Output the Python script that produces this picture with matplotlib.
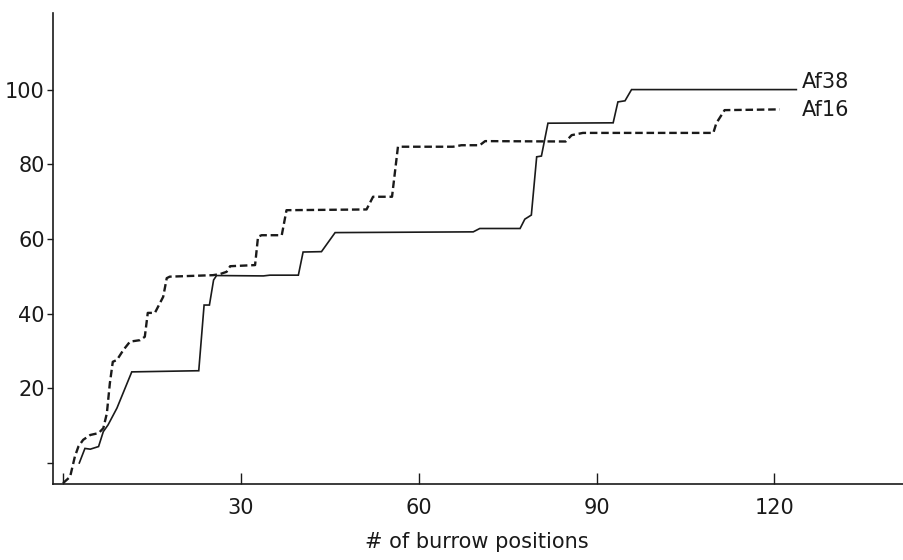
import matplotlib
matplotlib.use("Agg")
import matplotlib.pyplot as plt

# Af16 (dashed) cumulative home range (%) vs # of burrow positions
af16_x = [0.0, 1.2, 2.0, 2.6, 3.4, 4.6, 6.0, 6.8, 7.4, 7.9, 8.4, 9.1, 10.2, 11.3,
          13.0, 13.8, 14.3, 15.5, 16.9, 17.5, 18.0, 25.3, 26.5, 27.6, 28.2, 32.4,
          32.9, 33.5, 36.9, 37.7, 51.2, 52.3, 55.5, 56.5, 65.8, 67.2, 70.3, 71.2,
          84.8, 85.8, 87.7, 109.7, 110.2, 111.6, 120.9]
af16_y = [-5.4, -3.7, 1.7, 4.4, 6.2, 7.5, 8.0, 9.3, 13.3, 21.3, 27.1, 27.6, 30.3, 32.5,
          32.9, 33.8, 40.2, 40.2, 44.5, 49.5, 49.9, 50.3, 50.6, 51.2, 52.7, 53.0,
          60.6, 61.0, 61.0, 67.7, 67.9, 71.3, 71.3, 84.7, 84.7, 85.1, 85.1, 86.2,
          86.1, 87.8, 88.4, 88.4, 91.0, 94.5, 94.7]

# Af38 (solid)
af38_x = [2.75, 3.7, 4.6, 6.0, 6.8, 7.6, 9.1, 11.6, 22.6, 22.9, 23.8, 24.7, 25.4,
          25.9, 33.8, 34.9, 39.7, 40.5, 43.6, 45.9, 69.2, 70.3, 77.1, 77.9, 79.0,
          79.9, 80.7, 81.8, 92.8, 93.6, 94.8, 95.9, 123.7]
af38_y = [0.0, 3.9, 3.7, 4.4, 8.4, 10.2, 14.7, 24.4, 24.7, 24.7, 42.3, 42.3, 49.0,
          50.2, 50.1, 50.3, 50.3, 56.5, 56.6, 61.7, 61.9, 62.8, 62.8, 65.3, 66.4,
          82.0, 82.2, 91.0, 91.1, 96.7, 97.0, 100.0, 100.0]

x_ticks = [0, 30, 60, 90, 120]
x_tick_labels = ["", "30", "60", "90", "120"]
y_ticks = [0, 20, 40, 60, 80, 100]
y_tick_labels = ["", "20", "40", "60", "80", "100"]

series_names = ["Af38", "Af16"]

fig = plt.figure(figsize=(9.04, 5.6), dpi=100)
ax = fig.add_axes([0.0586, 0.1357, 0.962, 0.841])

ax.plot(af38_x, af38_y, color="#1a1a1a", lw=1.2, solid_joinstyle="miter")
ax.plot(af16_x, af16_y, color="#1a1a1a", lw=1.7, linestyle=(0, (3.2, 1.6)))

ax.text(af38_x[-1] + 0.9, af38_y[-1] + 2.0, series_names[0], fontsize=15,
        ha="left", va="center", color="#1a1a1a")
ax.text(af16_x[-1] + 3.7, af16_y[-1] - 0.2, series_names[1], fontsize=15,
        ha="left", va="center", color="#1a1a1a")

ax.set_xlim(-1.69, 145)
ax.set_ylim(-5.63, 120.5)

ax.spines["top"].set_visible(False)
ax.spines["right"].set_visible(False)
for s in ("left", "bottom"):
    ax.spines[s].set_linewidth(1.2)
    ax.spines[s].set_color("#1a1a1a")

ax.set_xticks(x_ticks)
ax.set_xticklabels(x_tick_labels, fontsize=15)
ax.set_yticks(y_ticks)
ax.set_yticklabels(y_tick_labels, fontsize=15)
ax.tick_params(axis="x", direction="in", length=8, width=1.0, pad=10, colors="#1a1a1a")
ax.tick_params(axis="y", direction="out", length=4, width=1.0, pad=2, colors="#1a1a1a")

fig.text(477 / 904, 1 - 542 / 560, "# of burrow positions", fontsize=15,
         ha="center", va="center", color="#1a1a1a")

fig.savefig("out.png", dpi=100)
